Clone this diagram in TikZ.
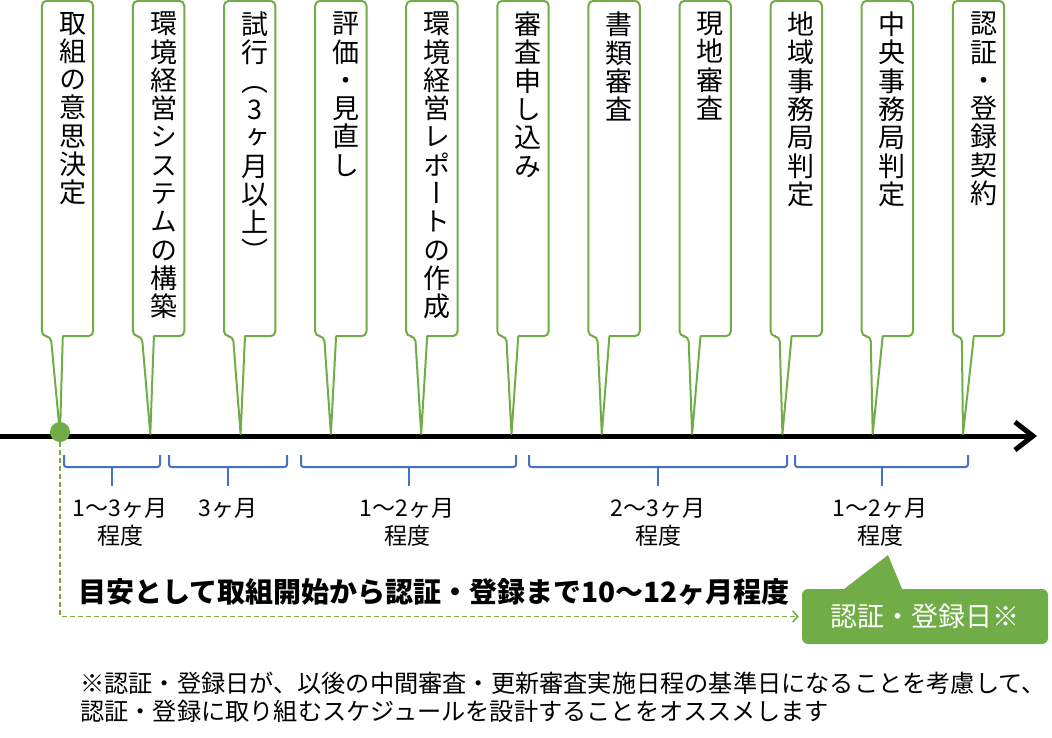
\documentclass[tikz,border=0pt]{standalone}
\usepackage{fontspec}
\setmainfont{Noto Sans CJK JP}
\newfontfamily\tatefont[RawFeature=+vert]{Noto Sans CJK JP}
\usetikzlibrary{arrows.meta, positioning}
\definecolor{leaf}{HTML}{70AD47}
\definecolor{spanblue}{HTML}{4472C4}

\begin{document}
\begin{tikzpicture}[x=1pt, y=-1pt,
    slot/.style={minimum width=51pt, minimum height=335pt, inner sep=0pt},
    callout/.style={draw=leaf, line width=2pt, fill=white, line join=round},
    tate/.style={font=\tatefont\fontsize{27}{28.3}\selectfont, align=center,
                 inner sep=0pt, anchor=north},
    axis/.style={line width=5pt, -{Straight Barb[length=18pt, width=28pt]}},
    span/.style={draw=spanblue, line width=2pt, rounded corners=2.5pt},
    spantext/.style={font=\fontsize{23}{28}\selectfont, align=center, anchor=north, inner sep=0pt},
    guide/.style={draw=leaf, line width=1.6pt, dash pattern=on 5pt off 3pt,
                  -{Straight Barb[length=5pt, width=11pt]}, shorten >=3pt},
    dot/.style={circle, fill=leaf, minimum size=20pt, inner sep=0pt},
    regbox/.style={fill=leaf, text=white, rounded corners=6pt, minimum width=246pt,
                   minimum height=55pt, font=\fontsize{27}{27}\selectfont}
]
\useasboundingbox (0,0) rectangle (1052,737);

% Time axis
\coordinate (axisstart) at (0,436);
\coordinate (axisend) at (1037,436);
\draw[axis] (axisstart) -- (axisend);

% Steps
\foreach \k/\txt in {
    0/{取\\組\\の\\意\\思\\決\\定},
    1/{環\\境\\経\\営\\シ\\ス\\テ\\ム\\の\\構\\築},
    2/{試\\行\\（\\3\\ヶ\\月\\以\\上\\）},
    3/{評\\価\\・\\見\\直\\し},
    4/{環\\境\\経\\営\\レ\\ポ\\ー\\ト\\の\\作\\成},
    5/{審\\査\\申\\し\\込\\み},
    6/{書\\類\\審\\査},
    7/{現\\地\\審\\査},
    8/{地\\域\\事\\務\\局\\判\\定},
    9/{中\\央\\事\\務\\局\\判\\定},
    10/{認\\証\\・\\登\\録\\契\\約}} {
  \node[slot] (box\k) at (67.5+91.1*\k,168.5) {};
  \coordinate (tip\k) at (60+90.3*\k,434);
  \draw[callout] (tip\k) -- ([xshift=21pt]box\k.south west) [rounded corners=5pt]
    -- (box\k.south east) -- (box\k.north east) -- (box\k.north west)
    -- (box\k.south west) -- ([xshift=9pt]box\k.south west) [sharp corners] -- cycle;
  \node[tate] (step\k) at ([xshift=5pt, yshift=-11pt]box\k.north) {\txt};
}

% Start point
\node[dot] (start) at (60,432) {};

% Durations
\foreach \a/\b/\c in {64/160/112, 169/287/228, 301/516/409, 529/787/658, 795/968/882} {
  \draw[span] (\a,455) -- (\a,467) -- (\b,467) -- (\b,455);
  \draw[span] (\c,467) -- (\c,486);
}
\node[spantext] (dur1) at (120,498) {1〜3ヶ月\\程度};
\node[spantext] (dur2) at (228,498) {3ヶ月};
\node[spantext] (dur3) at (407,498) {1〜2ヶ月\\程度};
\node[spantext] (dur4) at (658,498) {2〜3ヶ月\\程度};
\node[spantext] (dur5) at (880,498) {1〜2ヶ月\\程度};

% Registration day
\node[regbox] (regday) at (925,616.5) {認証・登録日※};
\coordinate (regtip) at (888,555);
\fill[leaf] ([xshift=40pt, yshift=-2pt]regday.north west) -- (regtip)
  -- ([xshift=101pt, yshift=-2pt]regday.north west) -- cycle;

\node[font=\bfseries\fontsize{28}{28}\selectfont] (total) at (434,592)
  {目安として取組開始から認証・登録まで10〜12ヶ月程度};
\draw[guide] (start.south) |- (regday.west);

% Note
\node[anchor=west, align=left, inner sep=0pt, font=\fontsize{24.2}{28}\selectfont] (note) at (80,697)
  {※認証・登録日が、以後の中間審査・更新審査実施日程の基準日になることを考慮して、\\
   認証・登録に取り組むスケジュールを設計することをオススメします};

\end{tikzpicture}
\end{document}
